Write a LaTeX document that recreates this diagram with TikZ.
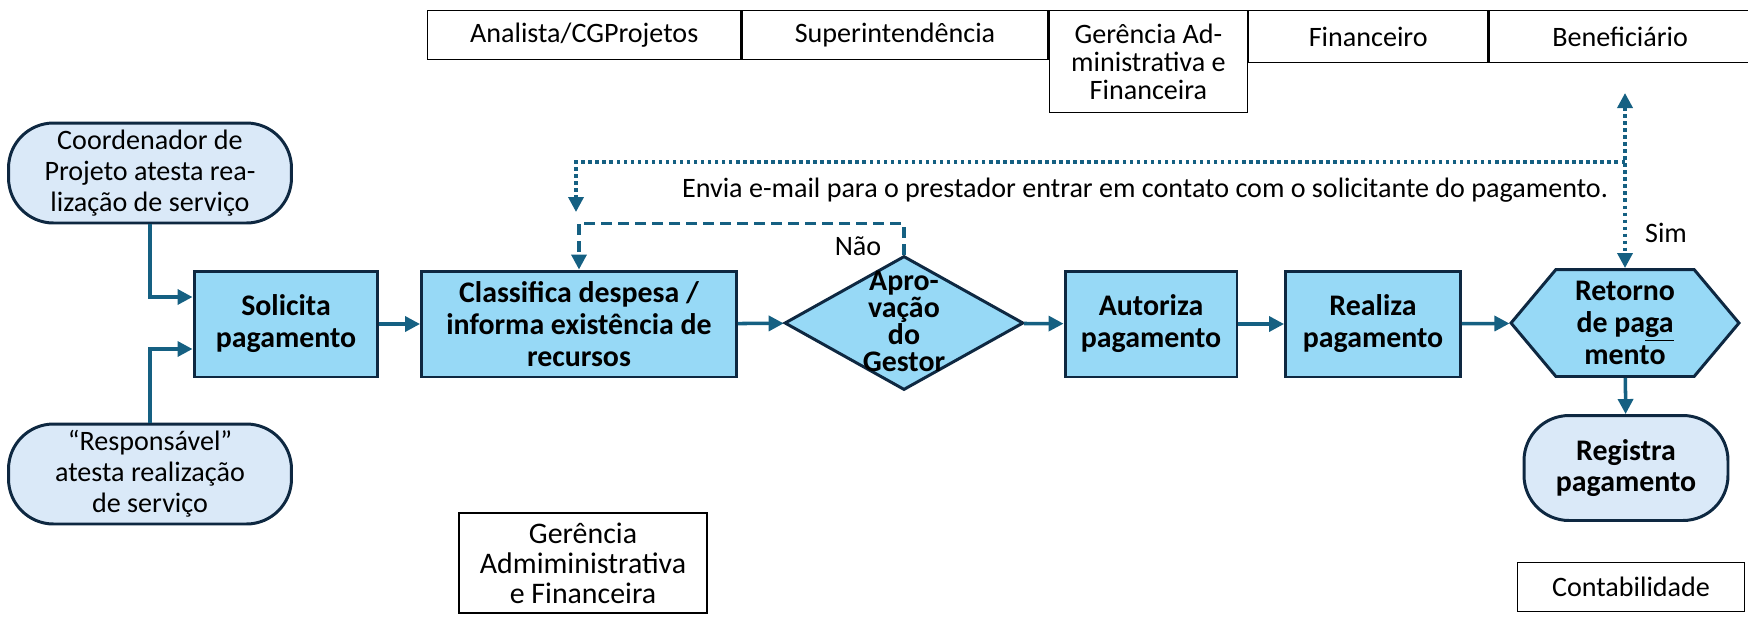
\documentclass[tikz,border=0pt]{standalone}
\usepackage{fontspec}
\setmainfont{Carlito}
\usepackage{tikz}
\usetikzlibrary{positioning,calc,shapes.geometric,shapes.symbols,arrows.meta}
\definecolor{boxfill}{HTML}{97D9F6}
\definecolor{termfill}{HTML}{DAE9F8}
\definecolor{edgecol}{HTML}{0E2841}
\definecolor{flowcol}{HTML}{156082}

\tikzset{
  lane/.style={draw=black, line width=0.8pt, minimum height=0.98cm, inner sep=0pt, align=center, font=\fontsize{16}{15.9}\selectfont},
  proc/.style={draw=edgecol, fill=boxfill, line width=1.7pt, minimum height=2.12cm, inner sep=0pt, align=center, font=\bfseries\fontsize{17}{18.2}\selectfont},
  term/.style={draw=edgecol, fill=termfill, line width=1.7pt, rounded corners=0.9cm, minimum width=5.66cm, minimum height=2cm, inner sep=0pt, align=center, font=\fontsize{16}{17.6}\selectfont},
  decision/.style={diamond, draw=edgecol, fill=boxfill, line width=1.7pt, minimum width=4.78cm, minimum height=2.68cm, inner sep=0pt},
  hexa/.style={signal, signal to=west and east, signal pointer angle=100, draw=edgecol, fill=boxfill, line width=1.7pt, minimum width=4.56cm, minimum height=2.14cm, inner sep=0pt, align=center, font=\bfseries\fontsize{17}{18.2}\selectfont},
  flow/.style={draw=flowcol, line width=2pt, ->},
  nao/.style={flow, dash pattern=on 0.22cm off 0.12cm},
  email/.style={flow, dash pattern=on 2pt off 2pt},
  >={Triangle[length=0.3cm,width=0.3cm]}
}

\begin{document}
\begin{tikzpicture}[x=0.02cm, y=-0.02cm, font=\fontsize{16}{17.6}\selectfont]
\useasboundingbox (0,0) rectangle (1748,620);

% raias do topo
\node[lane, minimum width=6.26cm, anchor=north west] (analista) at (427,10) {Analista/CGProjetos};
\node[lane, minimum width=6.12cm, anchor=north west] (superint) at (analista.north east) {Superintendência};
\node[lane, minimum width=3.96cm, minimum height=2.04cm, anchor=north west] (geradm) at (superint.north east) {Gerência Ad-\\ministrativa e\\Financeira};
\node[lane, minimum width=4.78cm, minimum height=1.04cm, anchor=north west] (financ) at (geradm.north east) {Financeiro};
\node[lane, minimum width=5.24cm, minimum height=1.04cm, anchor=north west] (benef) at (financ.north east) {Beneficiário};

% fluxo
\node[term] (coord) at (150,173) {Coordenador de\\Projeto atesta rea-\\lização de serviço};
\node[term] (resp) at (150,474) {“Responsável”\\atesta realização\\de serviço};
\node[proc, minimum width=3.68cm] (solic) at (286,324) {Solicita\\pagamento};
\node[proc, minimum width=6.3cm] (classif) at (579,324) {Classifica despesa /\\informa existência de\\recursos};
\node[decision] (aprov) at (904,323) {};
\node[align=center, font=\bfseries\fontsize{17}{15.4}\selectfont] (aprovtxt) at (904,321) {Apro-\\vação\\do\\Gestor};
\node[proc, minimum width=3.44cm] (autor) at (1151,324) {Autoriza\\pagamento};
\node[proc, minimum width=3.5cm] (realiza) at (1373,324) {Realiza\\pagamento};
\node[hexa] (retorno) at (1625,323) {Retorno\\de pa\underline{ga}\\mento};
\node[term, minimum width=4.08cm, minimum height=2.1cm, font=\bfseries\fontsize{17}{17.6}\selectfont] (registra) at (1626,468) {Registra\\pagamento};

% raias de baixo
\node[lane, minimum width=4.96cm, minimum height=2cm, font=\fontsize{17}{17}\selectfont] (gaf) at (583,563) {Gerência\\Admiministrativa\\e Financeira};
\node[lane, minimum width=4.54cm] (contab) at (1631,587) {Contabilidade};

% setas
\draw[flow] (coord.south) |- ($(solic.west)+(0,-27)$);
\draw[flow] (resp.north) |- ($(solic.west)+(0,25)$);
\draw[flow] (solic) -- (classif);
\draw[flow] (classif) -- (aprov);
\draw[flow] (aprov) -- (autor);
\draw[flow] (autor) -- (realiza);
\draw[flow] (realiza) -- (retorno);
\draw[flow] (retorno) -- (registra);

% Nao
\draw[nao] (aprov.north) -- ++(0,-31) -| (classif.north);
\node (naolbl) at (858,246) {Não};

% Sim / e-mail
\coordinate (benefpt) at (1625,93);
\coordinate (juncao) at (1625,162);
\coordinate (emailpt) at (576,212);
\draw[email, <->] (benefpt) -- (retorno.north);
\draw[email] (juncao) -| (emailpt);
\node (emailtxt) at (1145,190) {Envia e-mail para o prestador entrar em contato com o solicitante do pagamento.};
\node (simlbl) at (1666,233) {Sim};
\end{tikzpicture}
\end{document}
